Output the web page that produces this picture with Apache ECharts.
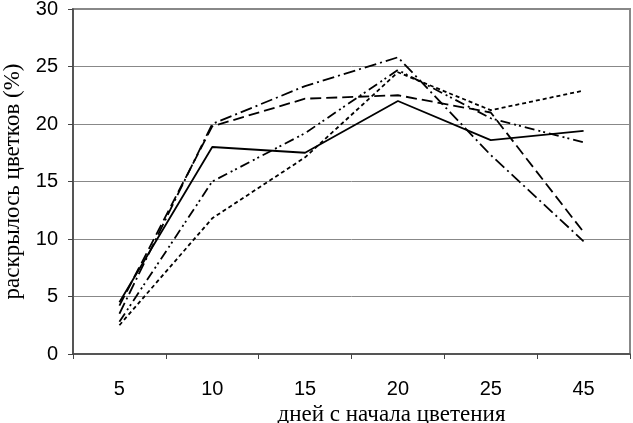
<!DOCTYPE html>
<html>
<head>
<meta charset="utf-8">
<script src="https://cdn.jsdelivr.net/npm/echarts@6/dist/echarts.min.js"></script>
<style>
html,body{margin:0;padding:0;background:#fff;}
#c{width:633px;height:423px;}
</style>
</head>
<body>
<div id="c"></div>
<script>
const categories = ['5', '10', '15', '20', '25', '45'];
const solidLine = [4.5, 18.0, 17.5, 22.0, 18.6, 19.4];
const shortDash = [2.5, 11.8, 17.1, 24.5, 21.2, 22.9];
const longDash = [4.2, 19.8, 22.2, 22.5, 21.0, 10.6];
const dashDot = [3.5, 20.0, 23.3, 25.8, 17.3, 9.8];
const dashDotDot = [2.8, 15.0, 19.2, 24.7, 20.5, 18.4];
const yTicks = [0, 5, 10, 15, 20, 25, 30];
const xTitle = 'дней с начала цветения';
const yTitle = 'раскрылось цветков (%)';

const chart = echarts.init(document.getElementById('c'));
function mk(name, data, type) {
  return {
    name: name, type: 'line', data: data, symbol: 'none',
    lineStyle: { color: '#000', width: 1.8, type: type },
    emphasis: { disabled: true }, animation: false
  };
}
chart.setOption({
  animation: false,
  grid: { left: 73, top: 9, right: 3, bottom: 69, show: true, borderColor: '#888', borderWidth: 2,
          containLabel: false, outerBoundsMode: 'none' },
  xAxis: {
    type: 'category', data: categories, boundaryGap: true,
    axisLine: { lineStyle: { color: '#444', width: 1.5 } },
    axisTick: { show: true, length: 5, alignWithLabel: false, lineStyle: { color: '#444' } },
    axisLabel: { fontFamily: 'Liberation Sans', fontSize: 20, color: '#000', margin: 25 },
    name: xTitle, nameLocation: 'middle', nameGap: 44,
    nameTextStyle: { fontFamily: 'Liberation Serif', fontSize: 23, color: '#000', padding: [0, 0, 0, 80] }
  },
  yAxis: {
    type: 'value', min: yTicks[0], max: yTicks[yTicks.length - 1], interval: 5,
    axisLine: { show: true, lineStyle: { color: '#444', width: 1.5 } },
    axisTick: { show: true, length: 5, lineStyle: { color: '#444' } },
    axisLabel: { fontFamily: 'Liberation Sans', fontSize: 20, color: '#000', margin: 15 },
    splitLine: { lineStyle: { color: '#888', width: 1 } },
    name: yTitle, nameLocation: 'middle', nameGap: 49,
    nameTextStyle: { fontFamily: 'Liberation Serif', fontSize: 23, color: '#000' }
  },
  series: [
    mk('solid', solidLine, 'solid'),
    mk('shortDash', shortDash, [4, 3]),
    mk('longDash', longDash, [11, 5]),
    mk('dashDot', dashDot, [12, 4, 2, 4]),
    mk('dashDotDot', dashDotDot, [10, 4, 2, 3, 2, 4])
  ]
});
</script>
</body>
</html>
